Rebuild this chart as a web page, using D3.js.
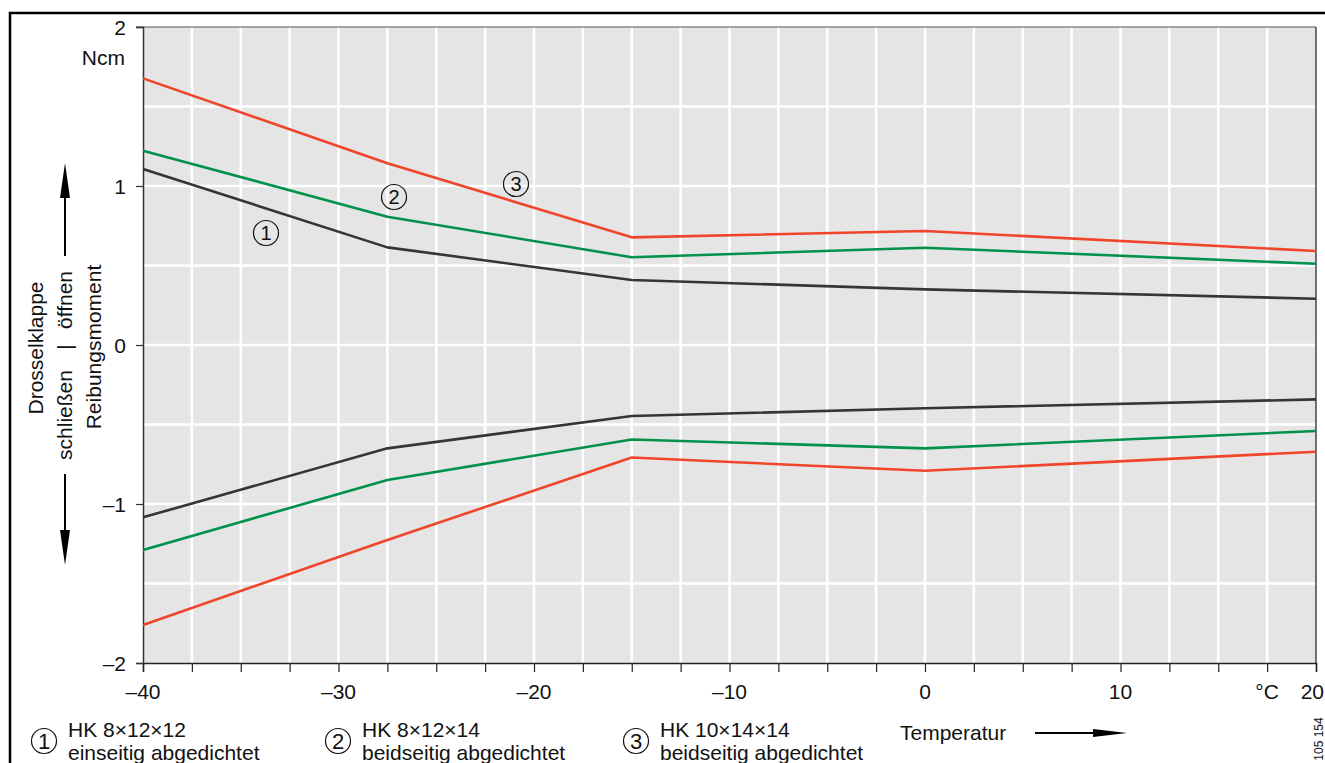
<!DOCTYPE html>
<html><head><meta charset="utf-8">
<script src="https://cdn.jsdelivr.net/npm/d3@7"></script>
<style>
html,body{margin:0;padding:0;background:#fff;overflow:hidden}
text{font-family:"Liberation Sans",Arial,sans-serif;fill:#111}
</style></head>
<body>
<svg id="c" width="1325" height="763"></svg>
<script>
// ---- data ----
const temps = [-40, -27.5, -15, 0, 20];
const upper1 = [1.107, 0.614, 0.409, 0.350, 0.291];
const upper2 = [1.222, 0.807, 0.552, 0.612, 0.511];
const upper3 = [1.677, 1.143, 0.677, 0.717, 0.591];
const lower1 = [-1.084, -0.650, -0.447, -0.398, -0.342];
const lower2 = [-1.289, -0.849, -0.594, -0.650, -0.541];
const lower3 = [-1.761, -1.226, -0.708, -0.791, -0.671];
const xTicks = [-40,-37.5,-35,-32.5,-30,-27.5,-25,-22.5,-20,-17.5,-15,-12.5,-10,-7.5,-5,-2.5,0,2.5,5,7.5,10,12.5,15,17.5,20];
const xLabelVals = [-40,-30,-20,-10,0,10,17.5,20];
const xLabelTexts = ["–40","–30","–20","–10","0","10","°C","20"];
const yTicks = [-2,-1,0,1,2];
const yTickTexts = ["–2","–1","0","1","2"];
const yGrid = [-1.5,-1,-0.5,0,0.5,1,1.5];
const seriesNames = ["1","2","3"];
const legendLine1 = ["HK 8×12×12","HK 8×12×14","HK 10×14×14"];
const legendLine2 = ["einseitig abgedichtet","beidseitig abgedichtet","beidseitig abgedichtet"];
const colors = ["#353535","#00924b","#f0452a"];

// ---- layout ----
const FS = 21;
const svg = d3.select("#c");
const L=143, R=1316, T=27, B=663;
const x = d3.scaleLinear().domain([-40,20]).range([L,R]);
const y = d3.scaleLinear().domain([-2,2]).range([B,T]);

// outer frame
svg.append("rect").attr("x",10).attr("y",13).attr("width",1340).attr("height",800)
  .attr("fill","none").attr("stroke","#000").attr("stroke-width",2.5);

// plot background
svg.append("rect").attr("x",L).attr("y",T).attr("width",R-L).attr("height",B-T).attr("fill","#e5e5e5");

// grid
svg.append("g").selectAll("line").data(xTicks.filter(d=>d>-40&&d<20)).join("line")
  .attr("x1",d=>x(d)).attr("x2",d=>x(d)).attr("y1",T).attr("y2",B)
  .attr("stroke","#fff").attr("stroke-width",2.5);
svg.append("g").selectAll("line").data(yGrid).join("line")
  .attr("x1",L).attr("x2",R).attr("y1",d=>y(d)).attr("y2",d=>y(d))
  .attr("stroke","#fff").attr("stroke-width",2.5);

// plot frame
svg.append("line").attr("x1",136).attr("x2",R).attr("y1",T).attr("y2",T).attr("stroke","#555").attr("stroke-width",1.2);
svg.append("line").attr("x1",R).attr("x2",R).attr("y1",T).attr("y2",B).attr("stroke","#444").attr("stroke-width",1.5);

// axes
const xAxis = d3.axisBottom(x).tickValues(xTicks).tickSize(9).tickFormat("");
const gx = svg.append("g").attr("transform",`translate(0,${B})`).call(xAxis);
gx.select(".domain").attr("stroke","#222").attr("stroke-width",1.5);
gx.selectAll(".tick line").attr("stroke","#222").attr("stroke-width",1.2);
svg.append("g").selectAll("text").data(xLabelVals).join("text")
  .attr("x",(d,i)=> i===xLabelVals.length-1 ? 1324 : x(d)).attr("y",699)
  .attr("text-anchor",(d,i)=> i===xLabelVals.length-1 ? "end" : "middle")
  .style("font-size",FS+"px").text((d,i)=>xLabelTexts[i]);

const yAxis = d3.axisLeft(y).tickValues(yTicks).tickSize(7).tickFormat((d,i)=>yTickTexts[i]);
const gy = svg.append("g").attr("transform",`translate(${L},0)`).call(yAxis);
gy.select(".domain").attr("stroke","#333").attr("stroke-width",1.5);
gy.selectAll(".tick line").attr("stroke","#333").attr("stroke-width",1.2);
gy.selectAll(".tick text").attr("x",-17).attr("dy","0.35em")
  .style("font-size",FS+"px").style("font-family","'Liberation Sans',Arial,sans-serif").attr("fill","#111");

svg.append("text").attr("x",125).attr("y",65).attr("text-anchor","end").style("font-size",FS+"px").text("Ncm");

// lines
const line = d3.line().x((d,i)=>x(temps[i])).y(d=>y(d));
const all = [[upper1,0],[upper2,1],[upper3,2],[lower1,0],[lower2,1],[lower3,2]];
svg.append("g").selectAll("path").data(all).join("path")
  .attr("d",d=>line(d[0])).attr("fill","none")
  .attr("stroke",d=>colors[d[1]]).attr("stroke-width",2.6).attr("stroke-linejoin","round");

// circled markers
function circled(g, cx, cy, label, r, fs){
  g.append("circle").attr("cx",cx).attr("cy",cy).attr("r",r).attr("fill","none").attr("stroke","#111").attr("stroke-width",1.2);
  g.append("text").attr("x",cx).attr("y",cy).attr("dy","0.36em").attr("text-anchor","middle").style("font-size",fs+"px").text(label);
}
const markerPos = [[266,233],[394,197],[516,184]];
markerPos.forEach((p,i)=>circled(svg,p[0],p[1],seriesNames[i],12.5,20));

// y-axis labels
function vtext(cx, cy, s, fs){
  svg.append("text").attr("transform",`translate(${cx},${cy}) rotate(-90)`)
    .attr("text-anchor","middle").attr("dy","0.35em").style("font-size",fs+"px").text(s);
}
vtext(36,348,"Drosselklappe",FS);
vtext(65,415,"schließen",FS);
vtext(65,300,"öffnen",FS);
vtext(65,347,"|",FS);
vtext(94,347,"Reibungsmoment",FS);

// arrows
function arrow(x1,y1,x2,y2){
  const ang = Math.atan2(y2-y1,x2-x1);
  const len = 35, w = 5;
  const bx = x2 - len*Math.cos(ang), by = y2 - len*Math.sin(ang);
  svg.append("line").attr("x1",x1).attr("y1",y1).attr("x2",bx).attr("y2",by).attr("stroke","#000").attr("stroke-width",2);
  const px = -Math.sin(ang)*w, py = Math.cos(ang)*w;
  svg.append("path").attr("d",`M${x2},${y2}L${bx+px},${by+py}L${bx-px},${by-py}Z`).attr("fill","#000");
}
arrow(65,256,65,163);
arrow(65,474,65,565);

// legend
const legX = [44,338,636];
legX.forEach((lx,i)=>{
  circled(svg,lx,741,seriesNames[i],12.5,22);
  svg.append("text").attr("x",lx+24).attr("y",737).style("font-size",FS+"px").text(legendLine1[i]);
  svg.append("text").attr("x",lx+24).attr("y",760).style("font-size",FS+"px").text(legendLine2[i]);
});
svg.append("text").attr("x",900).attr("y",740).style("font-size",FS+"px").text("Temperatur");
svg.append("line").attr("x1",1035).attr("y1",733).attr("x2",1095).attr("y2",733).attr("stroke","#000").attr("stroke-width",2);
svg.append("path").attr("d","M1127,733L1093,729L1093,737Z").attr("fill","#000");

svg.append("text").attr("transform","translate(1323,739) rotate(-90)").attr("text-anchor","middle")
  .style("font-size","12px").attr("fill","#333").text("105 154");
</script>
</body></html>
